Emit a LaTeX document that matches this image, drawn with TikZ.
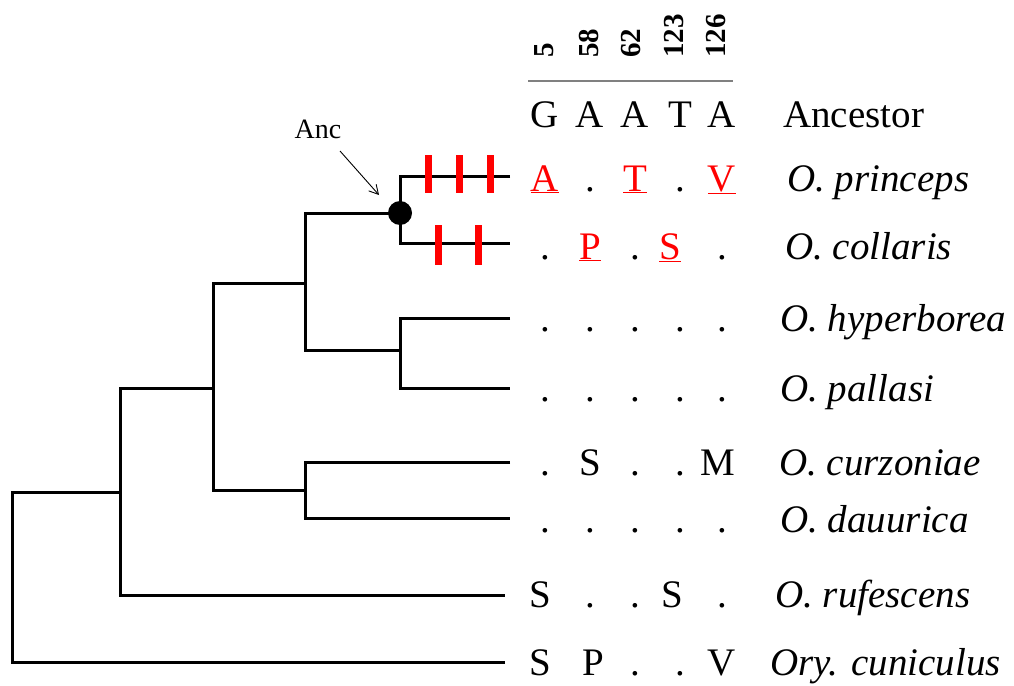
\documentclass[tikz,border=0pt]{standalone}
\usepackage{fontspec}
\setmainfont{Liberation Serif}
\usetikzlibrary{arrows.meta}
\begin{document}
\begin{tikzpicture}[x=1pt,y=-1pt,
  branch/.style={line width=3pt, line cap=butt},
  tick/.style={red, line width=7pt},
  res/.style={anchor=base, inner sep=0pt, font=\fontsize{39}{42}\selectfont},
  mut/.style={res, text=red},
  sp/.style={anchor=base west, inner sep=0pt, font=\fontsize{39}{42}\selectfont\itshape},
  posnum/.style={rotate=90, anchor=base west, inner sep=0pt, font=\fontsize{29}{31}\selectfont\bfseries}]
\useasboundingbox (0,0) rectangle (1014,685);
% tree coordinates
\coordinate (n1) at (400,213);
\coordinate (lp) at (510,176);
\coordinate (lc) at (510,243);
\coordinate (n2) at (400,350);
\coordinate (lh) at (510,318);
\coordinate (lpa) at (510,388);
\coordinate (n3) at (305,283);
\coordinate (n4) at (305,490);
\coordinate (lcu) at (510,462);
\coordinate (ld) at (510,518);
\coordinate (n5) at (213,388);
\coordinate (t6) at (120,388);
\coordinate (n6) at (120,492);
\coordinate (lr) at (505,595);
\coordinate (n7) at (12,662);
\coordinate (lo) at (505,662);
% branches
\draw[branch] (lp) -| (n1) |- (lc);
\draw[branch] (lh) -| (n2) |- (lpa);
\draw[branch] (n1) -| (n3) |- (n2);
\draw[branch] (lcu) -| (n4) |- (ld);
\draw[branch] (n3) -| (n5) |- (n4);
\draw[branch] (n5) -- (t6) |- (lr);
\draw[branch] (n6) -| (n7) -- (lo);
\fill (n1) circle (12);
% mutation ticks
\foreach \x in {428,459,490} \draw[tick] (\x,155) -- (\x,193);
\foreach \x in {438,478} \draw[tick] (\x,225) -- (\x,265);
% Anc label
\node[anchor=base, inner sep=0pt, font=\fontsize{28}{30}\selectfont] (anclab) at (318,138) {Anc};
\coordinate (ancarr) at (379,195);
\draw[-{Straight Barb[length=9pt,width=10pt]}, line width=0.9pt] (340,151) -- (ancarr);
% header
\foreach \x/\t [count=\i] in {553/5,598/58,640/62,683/123,725/126}
  \node[posnum] (h\i) at (\x,58) {\t};
\draw[gray, line width=2.7pt] (528,81) coordinate (hl) -- (733,81) coordinate (hr);
% Ancestor
\foreach \x/\t [count=\i] in {545/G,590/A,635/A,680/T,722/A} \node[res] (a\i) at (\x,127) {\t};
\node[anchor=base west, inner sep=0pt, font=\fontsize{39}{42}\selectfont] (ancname) at (783,127) {Ancestor};
% princeps
\node[mut] (p1) at (545,191) {\underline{A}};
\node[res] (p2) at (590,191) {.};
\node[mut] (p3) at (635,191) {\underline{T}};
\node[res] (p4) at (680,191) {.};
\node[mut] (p5) at (722,191) {\underline{V}};
\node[sp] (sp1) at (787,191) {O. princeps};
% collaris
\node[res] (c1) at (545,259) {.};
\node[mut] (c2) at (590,259) {\underline{P}};
\node[res] (c3) at (635,259) {.};
\node[mut] (c4) at (670,259) {\underline{S}};
\node[res] (c5) at (722,259) {.};
\node[sp] (sp2) at (785,259) {O. collaris};
% hyperborea
\foreach \x [count=\i] in {545,590,635,680,722} \node[res] (hy\i) at (\x,331) {.};
\node[sp] (sp3) at (780,331) {O. hyperborea};
% pallasi
\foreach \x [count=\i] in {545,590,635,680,722} \node[res] (pa\i) at (\x,401) {.};
\node[sp] (sp4) at (780,401) {O. pallasi};
% curzoniae
\node[res] (cu1) at (545,475) {.};
\node[res] (cu2) at (590,475) {S};
\node[res] (cu3) at (635,475) {.};
\node[res] (cu4) at (680,475) {.};
\node[res] (cu5) at (718,475) {M};
\node[sp] (sp5) at (779,475) {O. curzoniae};
% dauurica
\foreach \x [count=\i] in {545,590,635,680,722} \node[res] (da\i) at (\x,532) {.};
\node[sp] (sp6) at (780,532) {O. dauurica};
% rufescens
\node[res] (ru1) at (540,607) {S};
\node[res] (ru2) at (590,607) {.};
\node[res] (ru3) at (635,607) {.};
\node[res] (ru4) at (672,607) {S};
\node[res] (ru5) at (722,607) {.};
\node[sp] (sp7) at (775,607) {O. rufescens};
% cuniculus
\node[res] (o1) at (540,675) {S};
\node[res] (o2) at (593,675) {P};
\node[res] (o3) at (635,675) {.};
\node[res] (o4) at (680,675) {.};
\node[res] (o5) at (722,675) {V};
\node[sp] (sp8) at (770,675) {Ory. cuniculus};
\end{tikzpicture}
\end{document}
